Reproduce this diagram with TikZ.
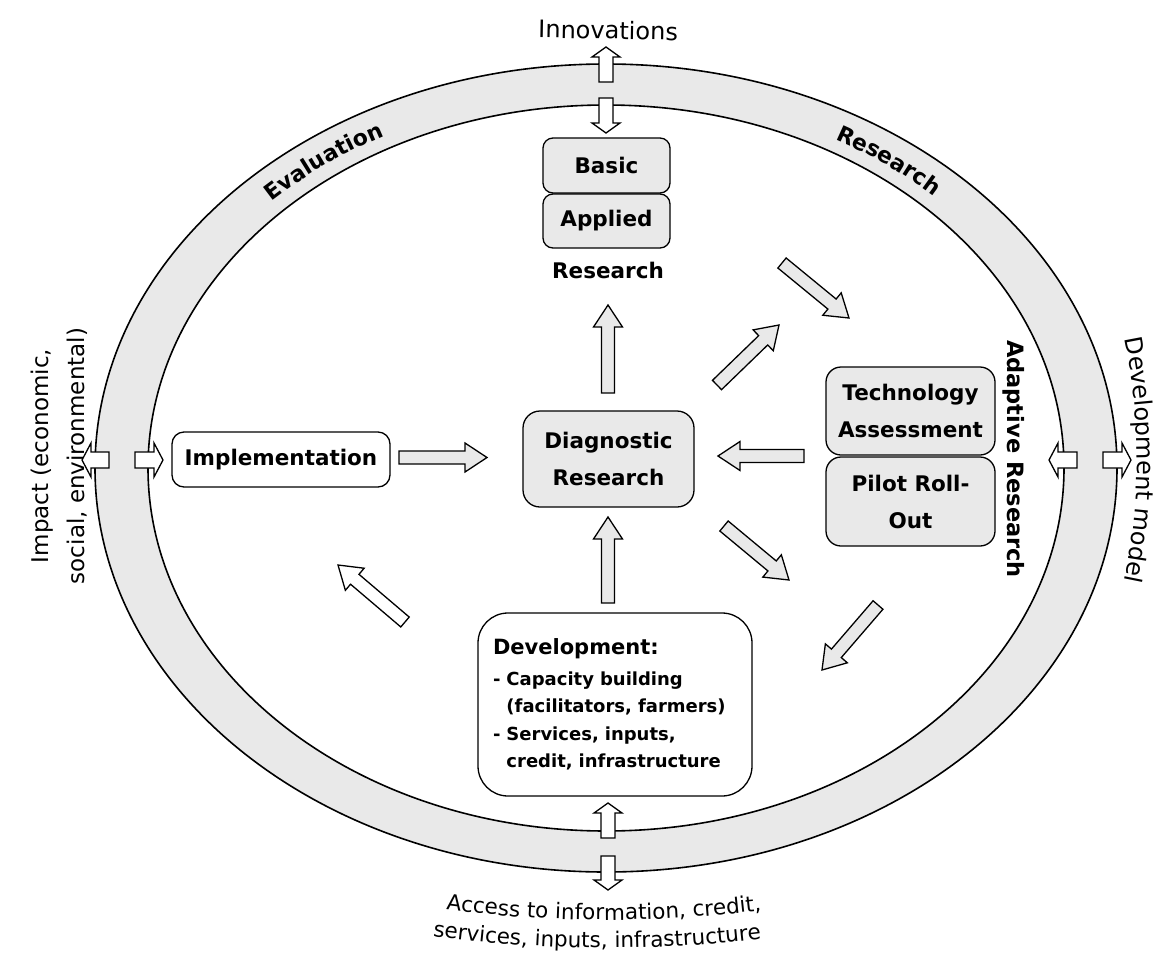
\documentclass[tikz,border=0pt]{standalone}
\usepackage{fontspec}
\setmainfont{DejaVu Sans}
\usetikzlibrary{calc, positioning}
\usetikzlibrary{decorations.text}
\definecolor{boxgray}{RGB}{233,233,233}
\newcommand{\boxfont}{\bfseries\fontsize{21.5}{37}\selectfont}
\newcommand{\bandfont}{\bfseries\fontsize{22}{26}\selectfont}
\newcommand{\outfont}{\fontsize{21.5}{26}\selectfont}
\newcommand{\sidefont}{\fontsize{23}{27}\selectfont}
\newcommand{\modelfont}{\fontsize{24}{28}\selectfont}
\newcommand{\devfont}{\bfseries\fontsize{18}{27.5}\selectfont}
\tikzset{
	fat w/.store in=\fatw, fat w=6.5pt,
	fat h/.store in=\fath, fat h=14.5pt,
	fat l/.store in=\fatl, fat l=22pt,
	fat/.style={fill=boxgray, to path={
		($(\tikztostart)!\fatw!90:(\tikztotarget)$)
		-- ($(\tikztotarget)!\fatl!(\tikztostart)!\fatw!-90:(\tikztostart)$)
		-- ($(\tikztotarget)!\fatl!(\tikztostart)!\fath!-90:(\tikztostart)$)
		-- (\tikztotarget)
		-- ($(\tikztotarget)!\fatl!(\tikztostart)!\fath!90:(\tikztostart)$)
		-- ($(\tikztotarget)!\fatl!(\tikztostart)!\fatw!90:(\tikztostart)$)
		-- ($(\tikztostart)!\fatw!-90:(\tikztotarget)$) -- cycle}},
	ringarrow/.style={fat, fill=white, fat w=7pt, fat h=14pt, fat l=10pt},
	sidearrow/.style={fat, fill=white, fat w=8pt, fat h=17pt, fat l=9pt},
}
\begin{document}
\begin{tikzpicture}[x=1pt, y=1pt, line width=1.3pt, line join=miter]
	\tikzstyle{box}=[draw, rounded corners=12pt, fill=boxgray, align=center, inner sep=0pt, font=\boxfont]
	\tikzstyle{whitebox}=[box, fill=white]
	\tikzstyle{outer}=[inner sep=0pt]

	\useasboundingbox (0,0) rectangle (1159,-956);

	% the ring
	\fill[boxgray, even odd rule] (606,-468) ellipse [x radius=511, y radius=404]
		(606,-468) ellipse [x radius=458, y radius=363];
	\draw[line width=1.6pt] (606,-468) ellipse [x radius=511, y radius=404];
	\draw[line width=1.6pt] (606,-468) ellipse [x radius=458, y radius=363];

	\path[decorate, decoration={text along path, text align=center, text={|\bandfont|Evaluation}}]
		(606,-468) ++(150:476 and 375) arc[start angle=150, end angle=104, x radius=476, y radius=375];
	\path[decorate, decoration={text along path, text align=center, text={|\bandfont|Research}}]
		(606,-468) ++(76:476 and 375) arc[start angle=76, end angle=30, x radius=476, y radius=375];

	% texts outside the ring
	\node[outer, font=\modelfont, anchor=base, rotate=-1] (innov) at (608,-39) {Innovations};
	\node[outer, font=\sidefont, rotate=90, anchor=base] (impact1) at (48,-456) {Impact (economic,};
	\node[outer, font=\sidefont, rotate=90, anchor=base] (impact2) at (84,-456) {social, environmental)};
	\path[decorate, decoration={text along path, text align=center, text={|\modelfont|Development model}}]
		(537,-460) ++(13:600) arc[start angle=13, end angle=-13, radius=600];
	\path[decorate, decoration={text along path, text align=center, text={|\outfont|Access to information, credit,}}]
		(607,330) ++(260:1250) arc[start angle=260, end angle=279.7, radius=1250];
	\path[decorate, decoration={text along path, text align=center, text={|\outfont|services, inputs, infrastructure}}]
		(607,330) ++(260:1278) arc[start angle=260, end angle=279.1, radius=1278];

	% boxes
	\node[box, minimum width=127pt, minimum height=55pt, rounded corners=10pt] (basic) at (606.5,-165.5) {Basic};
	\node[box, minimum width=127pt, minimum height=54pt, rounded corners=10pt] (applied) at (606.5,-221) {Applied};
	\node[outer, font=\boxfont, anchor=base] (reslabel) at (608,-278) {Research};
	\node[box, minimum width=171pt, minimum height=96pt, rounded corners=17pt] (diag) at (608.5,-459) {Diagnostic\\Research};
	\node[whitebox, minimum width=218pt, minimum height=55pt] (impl) at (281,-459.5) {Implementation};
	\node[box, minimum width=169pt, minimum height=88pt, rounded corners=15pt] (tech) at (910.5,-411) {Technology\\Assessment};
	\node[box, minimum width=169pt, minimum height=89pt, rounded corners=15pt] (pilot) at (910.5,-501.5) {Pilot Roll-\\Out};
	\node[outer, font=\bfseries\fontsize{22.5}{27}\selectfont, rotate=-90, anchor=base] (adapt) at (1007,-459) {Adaptive Research};
	\node[whitebox, minimum width=274pt, minimum height=183pt, rounded corners=30pt, text width=244pt, align=left, font=\devfont] (dev) at (615,-704.5)
		{{\fontsize{21}{25}\selectfont Development:}\\[3.5pt]
		- Capacity building\\
		\hphantom{- }(facilitators, farmers)\\
		- Services, inputs,\\
		\hphantom{- }credit, infrastructure};

	% arrows through the ring
	\coordinate (innov-s) at (606,-82);   \coordinate (innov-t) at (606,-47);
	\coordinate (top-s) at (606,-98);     \coordinate (top-t) at (606,-133);
	\coordinate (bot-s) at (608,-838);    \coordinate (bot-t) at (608,-803);
	\coordinate (acc-s) at (608,-856);    \coordinate (acc-t) at (608,-890);
	\coordinate (imp-s) at (109,-460);    \coordinate (imp-t) at (82,-460);
	\coordinate (lin-s) at (135,-460);    \coordinate (lin-t) at (163,-460);
	\coordinate (rin-s) at (1077,-460);   \coordinate (rin-t) at (1049,-460);
	\coordinate (mod-s) at (1103,-460);   \coordinate (mod-t) at (1131,-460);
	\draw[ringarrow] (innov-s) to (innov-t);
	\draw[ringarrow] (top-s) to (top-t);
	\draw[ringarrow] (bot-s) to (bot-t);
	\draw[ringarrow] (acc-s) to (acc-t);
	\draw[sidearrow] (imp-s) to (imp-t);
	\draw[sidearrow] (lin-s) to (lin-t);
	\draw[sidearrow] (rin-s) to (rin-t);
	\draw[sidearrow] (mod-s) to (mod-t);

	% arrows inside
	\coordinate (i2d-s) at (399,-457.5);  \coordinate (i2d-t) at (487,-457.5);
	\coordinate (d2r-s) at (608,-393);    \coordinate (d2r-t) at (608,-305);
	\coordinate (d2ne-s) at (717,-385);   \coordinate (d2ne-t) at (779,-325);
	\coordinate (r2a-s) at (782,-263);    \coordinate (r2a-t) at (849,-318);
	\coordinate (a2d-s) at (804,-456);    \coordinate (a2d-t) at (718,-456);
	\coordinate (d2se-s) at (724,-526);   \coordinate (d2se-t) at (789,-580);
	\coordinate (a2v-s) at (878,-605);    \coordinate (a2v-t) at (822,-670);
	\coordinate (v2d-s) at (608,-603);    \coordinate (v2d-t) at (608,-517);
	\coordinate (v2i-s) at (405,-622);    \coordinate (v2i-t) at (338,-565);
	\draw[fat] (i2d-s) to (i2d-t);
	\draw[fat] (d2r-s) to (d2r-t);
	\draw[fat] (d2ne-s) to (d2ne-t);
	\draw[fat] (r2a-s) to (r2a-t);
	\draw[fat] (a2d-s) to (a2d-t);
	\draw[fat] (d2se-s) to (d2se-t);
	\draw[fat] (a2v-s) to (a2v-t);
	\draw[fat] (v2d-s) to (v2d-t);
	\draw[fat, fill=white] (v2i-s) to (v2i-t);
\end{tikzpicture}
\end{document}
